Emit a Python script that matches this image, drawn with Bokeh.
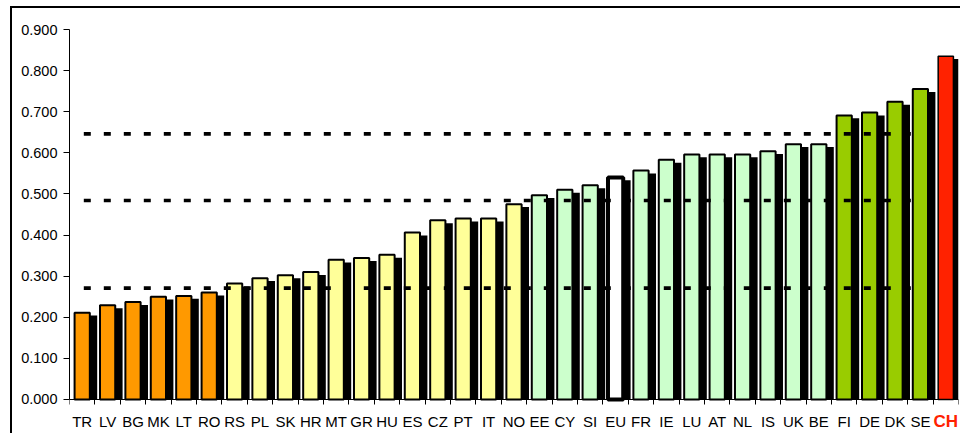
from bokeh.plotting import figure
from bokeh.models import Range1d, FixedTicker, NumeralTickFormatter
from bokeh.core.properties import value
from bokeh.embed import file_html
from bokeh.resources import INLINE

categories = ["TR", "LV", "BG", "MK", "LT", "RO", "RS", "PL", "SK", "HR", "MT", "GR",
              "HU", "ES", "CZ", "PT", "IT", "NO", "EE", "CY", "SI", "EU", "FR", "IE",
              "LU", "AT", "NL", "IS", "UK", "BE", "FI", "DE", "DK", "SE", "CH"]
values = [0.211, 0.229, 0.237, 0.250, 0.252, 0.260, 0.282, 0.295, 0.302, 0.310, 0.340, 0.344,
          0.352, 0.406, 0.436, 0.440, 0.440, 0.475, 0.497, 0.510, 0.521, 0.540, 0.557, 0.583,
          0.596, 0.596, 0.596, 0.604, 0.621, 0.621, 0.691, 0.698, 0.724, 0.755, 0.835]
groups = ["low"] * 6 + ["midlow"] * 12 + ["midhigh"] * 3 + ["eu"] + ["midhigh"] * 8 + ["high"] * 4 + ["ch"]
thresholds = [0.271, 0.484, 0.646]
y_ticks = [0.0, 0.1, 0.2, 0.3, 0.4, 0.5, 0.6, 0.7, 0.8, 0.9]
highlight = "CH"

palette = {"low": "#FF9900", "midlow": "#FFFF99", "midhigh": "#CCFFCC",
           "eu": "#FFFFFF", "high": "#99CC00", "ch": "#FF2200"}
outline_w = {"low": 2, "midlow": 2, "midhigh": 2, "eu": 4, "high": 2, "ch": 1.5}

n = len(categories)
xs = list(range(n))
fills = [palette[g] for g in groups]
lws = [outline_w[g] for g in groups]

FONT = "Liberation Sans"

p = figure(width=950, height=427, output_backend="svg", toolbar_location=None,
           x_range=Range1d(-0.5, n - 0.5), y_range=Range1d(-0.0876, 0.9),
           min_border_left=57, min_border_right=4, min_border_top=21, min_border_bottom=0)
p.styles = {"border-left": "2px solid black", "border-top": "2px solid black",
            "margin-left": "10px", "margin-top": "6px"}
p.outline_line_color = None
p.xgrid.grid_line_color = None
p.ygrid.grid_line_color = None
p.background_fill_color = "white"
p.border_fill_color = "white"

# shadows
shadow_dx = 0.262
shadow_dy = 0.007
p.vbar(x=[x + shadow_dx for x in xs], top=[v - shadow_dy for v in values], bottom=0,
       width=0.657, fill_color="black", line_color=None)
# bars
p.vbar(x=xs, top=values, bottom=0, width=0.6, fill_color=fills,
       line_color="black", line_width=lws)

# dashed reference lines
p.segment(x0=[0.063] * len(thresholds), x1=[33.1] * len(thresholds),
          y0=thresholds, y1=thresholds, line_color="black", line_width=3.6,
          line_dash="7 13")

# y axis
ya = p.yaxis[0]
ya.ticker = FixedTicker(ticks=y_ticks)
ya.formatter = NumeralTickFormatter(format="0.000")
ya.bounds = (0, 0.9)
ya.major_tick_out = 6
ya.major_tick_in = 0
ya.minor_tick_line_color = None
ya.axis_line_color = "black"
ya.major_tick_line_color = "black"
ya.major_label_text_font = FONT
ya.major_label_text_font_size = "14.5px"
ya.major_label_text_color = "black"
ya.major_label_standoff = 6

# x axis (drawn at y = 0)
xa = p.xaxis[0]
xa.fixed_location = 0
xa.ticker = FixedTicker(ticks=xs, minor_ticks=[x - 0.5 for x in xs] + [n - 0.5])
xa.major_tick_out = 0
xa.major_tick_in = 0
xa.minor_tick_out = 5
xa.minor_tick_in = 0
xa.minor_tick_line_color = "black"
xa.axis_line_color = "black"
xa.major_label_overrides = {i: (c if c != highlight else "") for i, c in enumerate(categories)}
xa.major_label_text_font = FONT
xa.major_label_text_font_size = "15px"
xa.major_label_text_color = "black"
xa.major_label_standoff = 9

ch_idx = categories.index(highlight)
p.text(x=[ch_idx], y=[-0.031], text=[highlight], text_color="#FF2200",
       text_font=value(FONT), text_font_style="bold", text_font_size="17px",
       text_align="center", text_baseline="top")

open("out.html", "w").write(file_html(p, INLINE))
